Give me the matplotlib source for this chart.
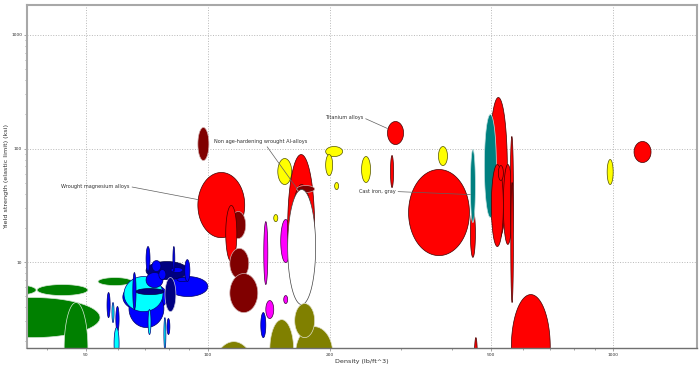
import numpy as np
import matplotlib
matplotlib.use("Agg")
import matplotlib.pyplot as plt
from matplotlib.ticker import FixedLocator, NullFormatter, LogLocator

# material property envelopes: density range (lb/ft^3), yield strength range (ksi)
dens_lo = [29.0, 37.9, 25.3, 53.6, 44.2,
           61.7, 63.9, 62.1, 66.5, 79.7, 70.4, 70.4, 72.8, 75.7, 81.1, 83.9, 78.4,
           70.4, 82.0, 87.7, 65.3, 71.2, 77.9, 79.3, 56.4, 58.0, 59.3, 58.7,
           94.5, 113.9, 110.7, 113.3, 113.3, 94.5, 101.7,
           137.4, 151.3, 139.0, 153.9, 135.1, 145.4, 148.8,
           157.4, 160.1, 165.7, 157.4, 164.7, 142.2, 163.8,
           195.3, 195.3, 205.5, 239.5, 282.3, 277.5, 370.7, 312.8,
           444.4, 444.4, 454.6, 495.0, 481.2, 500.6, 520.9, 535.9, 557.6, 559.0,
           560.8, 966.5, 1126]
dens_hi = [37.7, 50.6, 54.2, 65.0, 50.6,
           79.7, 77.9, 77.5, 77.9, 100.0, 89.3, 77.5, 76.6, 78.8, 86.8, 89.3, 83.4,
           72.0, 82.9, 90.3, 66.5, 72.4, 78.8, 80.6, 57.4, 58.7, 60.4, 60.4,
           123.3, 124.0, 117.9, 126.2, 132.8, 100.6, 132.1,
           140.6, 160.1, 145.4, 157.4, 139.0, 148.8, 161.0,
           183.4, 181.4, 183.4, 184.5, 203.2, 162.8, 183.4,
           215.0, 203.2, 210.2, 252.0, 287.2, 304.0, 390.1, 441.9,
           457.2, 457.2, 462.4, 548.2, 515.0, 535.9, 535.9, 564.0, 567.3, 567.3,
           699.5, 1000, 1240]
ys_lo = [5.07, 5.07, 2.16, 6.21, 0.68,
         3.66, 2.65, 3.66, 5.17, 4.97, 7.01, 5.96, 8.25, 7.01, 8.08, 6.73, 3.66,
         8.25, 8.25, 6.73, 3.82, 2.30, 1.69, 2.30, 3.24, 2.93, 2.44, 1.38,
         16.4, 16.1, 10.1, 7.15, 3.59, 78.4, 0.41,
         6.34, 9.9, 3.18, 4.31, 2.16, 22.7, 48.2,
         4.67, 4.67, 41.0, 4.22, 0.92, 0.92, 2.16,
         85.0, 57.8, 43.5, 50.2, 45.3, 108.4, 70.8, 11.4,
         11.0, 22.3, 0.92, 15.8, 24.7, 13.7, 52.3, 14.3, 14.9, 4.40,
         0.61, 48.2, 75.3]
ys_hi = [6.34, 6.34, 4.87, 7.30, 4.40,
         6.60, 5.72, 7.45, 5.84, 7.45, 10.1, 8.08, 10.3, 8.59, 8.94, 7.30, 7.30,
         13.7, 13.7, 10.5, 8.08, 3.82, 3.24, 3.18, 5.39, 4.40, 4.06, 2.65,
         61.5, 27.9, 31.5, 13.2, 7.92, 153.1, 1.99,
         22.7, 23.7, 4.58, 5.07, 3.59, 26.2, 81.6,
         88.5, 48.2, 47.2, 43.5, 2.70, 3.11, 4.31,
         104.1, 88.5, 50.2, 85.0, 86.8, 172.9, 104.1, 65.3,
         29.0, 98.0, 2.16, 281.4, 199.4, 72.3, 70.8, 72.3, 127.6, 50.2,
         5.17, 80.0, 115.3]
families = (["green"] * 5 + ["blue", "blue", "cyan", "navy", "blue", "navy", "blue", "blue",
            "blue", "blue", "blue", "navy2", "blue", "blue", "blue", "blue", "cyan", "cyan",
            "blue", "blue", "cyan", "blue", "cyan"]
            + ["red", "maroon", "red", "maroon", "maroon", "maroon", "olive"]
            + ["magenta", "magenta", "magenta", "magenta", "blue", "yellow", "yellow"]
            + ["red", "red", "maroon", "white", "olive", "olive", "olive"]
            + ["yellow", "yellow", "yellow", "yellow", "red", "red", "yellow", "red"]
            + ["red", "teal", "red", "red", "teal", "red", "red", "red", "red", "red"]
            + ["red", "yellow", "red"])

styles = {
    "green": ("#008000", "#d8e8d8"),
    "blue": ("#0000ff", "#000060"),
    "cyan": ("#00ffff", "#000080"),
    "navy": ("#000080", "#000040"),
    "navy2": ("#000080", "#c8c8e0"),
    "red": ("#ff0000", "#400000"),
    "maroon": ("#800000", "#d0b0b0"),
    "olive": ("#808000", "#e0e0c8"),
    "magenta": ("#ff00ff", "#400040"),
    "yellow": ("#ffff00", "#505000"),
    "white": ("#ffffff", "#404040"),
    "teal": ("#008080", "#c0e0e0"),
}

labels = ["Titanium alloys", "Non age-hardening wrought Al-alloys",
          "Wrought magnesium alloys", "Cast iron, gray"]
label_targets = [(277.5, 150), (166.6, 43.5), (94.5, 35.5), (444.4, 39.3)]
label_pos = [(194.2, 187.6), (103.5, 115.3), (43.4, 46.3), (235.4, 41.8)]

fig = plt.figure(figsize=(7, 3.67), dpi=100)
ax = fig.add_axes([0.0386, 0.0518, 0.9571, 0.9346])

t = np.linspace(0, 2 * np.pi, 240)
for lo, hi, ylo, yhi, fam in zip(dens_lo, dens_hi, ys_lo, ys_hi, families):
    cx = (np.log10(lo) + np.log10(hi)) / 2
    rx = (np.log10(hi) - np.log10(lo)) / 2
    cy = (np.log10(ylo) + np.log10(yhi)) / 2
    ry = (np.log10(yhi) - np.log10(ylo)) / 2
    fc, ec = styles[fam]
    ax.fill(10 ** (cx + rx * np.cos(t)), 10 ** (cy + ry * np.sin(t)),
            facecolor=fc, edgecolor=ec, lw=0.5, zorder=2)

for txt, target, pos in zip(labels, label_targets, label_pos):
    rel = (0.55, 0.0) if "Al-alloys" in txt else (1.0, 0.5)
    ax.annotate(txt, xy=target, xytext=pos, fontsize=3.6, color="#303030",
                ha="left", va="center", zorder=5,
                arrowprops=dict(arrowstyle="-", color="#606060", lw=0.5,
                                shrinkA=0, shrinkB=0, relpos=rel))

ax.set_xscale("log")
ax.set_yscale("log")
ax.set_xlim(35.8, 1610)
ax.set_ylim(1.75, 1837)

ax.xaxis.set_major_locator(FixedLocator([50, 100, 200, 500, 1000]))
ax.xaxis.set_major_formatter(plt.FuncFormatter(lambda v, p: f"{v:g}"))
ax.xaxis.set_minor_locator(LogLocator(base=10, subs=np.arange(2, 10)))
ax.xaxis.set_minor_formatter(NullFormatter())
ax.yaxis.set_major_locator(FixedLocator([10, 100, 1000]))
ax.yaxis.set_major_formatter(plt.FuncFormatter(lambda v, p: f"{v:g}"))
ax.yaxis.set_minor_locator(LogLocator(base=10, subs=np.arange(2, 10)))
ax.yaxis.set_minor_formatter(NullFormatter())

ax.tick_params(which="both", labelsize=3.2, length=2, width=0.4, color="#606060",
               labelcolor="#303030", pad=1.5)
ax.tick_params(which="minor", length=1.5)
ax.grid(True, which="major", ls=":", color="#b8b8b8", lw=0.7, zorder=0)
ax.set_axisbelow(True)

for side, sp in ax.spines.items():
    sp.set_color("#a8a8a8")
    sp.set_linewidth(1.5)
ax.spines["bottom"].set_color("#707070")
ax.spines["bottom"].set_linewidth(1.0)

ax.set_xlabel("Density (lb/ft^3)", fontsize=4.6, color="#303030", labelpad=1.5)
ax.set_ylabel("Yield strength (elastic limit) (ksi)", fontsize=4.6, color="#303030", labelpad=1.5)

fig.savefig("out.png", dpi=100)
